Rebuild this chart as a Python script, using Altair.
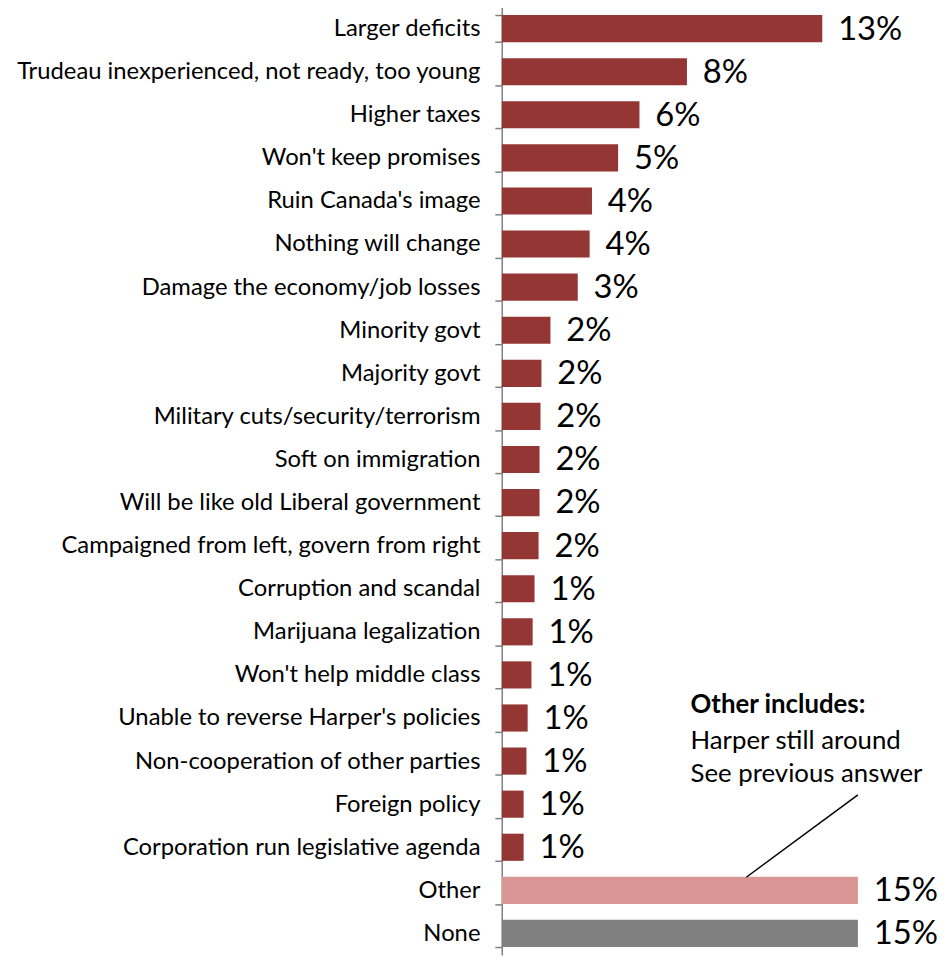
import altair as alt
import pandas as pd

categories = [
    "Larger deficits",
    "Trudeau inexperienced, not ready, too young",
    "Higher taxes",
    "Won't keep promises",
    "Ruin Canada's image",
    "Nothing will change",
    "Damage the economy/job losses",
    "Minority govt",
    "Majority govt",
    "Military cuts/security/terrorism",
    "Soft on immigration",
    "Will be like old Liberal government",
    "Campaigned from left, govern from right",
    "Corruption and scandal",
    "Marijuana legalization",
    "Won't help middle class",
    "Unable to reverse Harper's policies",
    "Non-cooperation of other parties",
    "Foreign policy",
    "Corporation run legislative agenda",
    "Other",
    "None",
]
values = [13.5, 7.8, 5.8, 4.9, 3.8, 3.7, 3.2, 2.05, 1.67, 1.63, 1.59, 1.59, 1.55,
          1.38, 1.3, 1.25, 1.09, 1.04, 0.92, 0.92, 15.0, 15.0]
labels = ["13%", "8%", "6%", "5%", "4%", "4%", "3%", "2%", "2%", "2%", "2%", "2%", "2%",
          "1%", "1%", "1%", "1%", "1%", "1%", "1%", "15%", "15%"]
groups = ["main"] * 20 + ["other", "none"]

note_title = "Other includes:"
note_lines = "Harper still around\nSee previous answer"

df = pd.DataFrame({"category": categories, "value": values, "label": labels, "group": groups})

FONT = "Lato"
y_scale = alt.Scale(domain=categories, paddingInner=0.37, paddingOuter=0.185)
x_scale = alt.Scale(domain=[0, 18])

bars = alt.Chart(df).mark_bar().encode(
    x=alt.X("value:Q", scale=x_scale, axis=None),
    y=alt.Y("category:N", scale=y_scale, title=None,
            axis=alt.Axis(ticks=True, tickSize=7, tickBand="extent",
                          tickColor="#808080", tickWidth=1.5, tickOpacity=1)),
    color=alt.Color("group:N", scale=alt.Scale(domain=["main", "other", "none"],
                                               range=["#943634", "#D99694", "#808080"]),
                    legend=None),
)

text = alt.Chart(df).mark_text(align="left", baseline="middle", dx=16, dy=1,
                               font=FONT, fontSize=33, color="#000000").encode(
    x=alt.X("value:Q", scale=x_scale),
    y=alt.Y("category:N", scale=y_scale, title=None),
    text="label:N",
)

ann_df = pd.DataFrame({"x": [7.95], "row_a": ["Unable to reverse Harper's policies"],
                       "row_b": ["Non-cooperation of other parties"],
                       "t1": [note_title], "t2": [note_lines],
                       "lx1": [15.0], "lx2": [10.3],
                       "ly1": ["Foreign policy"], "ly2": ["Other"]})

ann1 = alt.Chart(ann_df).mark_text(align="left", baseline="middle", dy=-13,
                                   font=FONT, fontSize=26, fontWeight="bold",
                                   color="#000000").encode(
    x=alt.X("x:Q", scale=x_scale),
    y=alt.Y("row_a:N", scale=y_scale, title=None),
    text="t1:N",
)
ann2 = alt.Chart(ann_df).mark_text(align="left", baseline="middle", dy=-20,
                                   font=FONT, fontSize=26, lineHeight=33,
                                   lineBreak="\n", color="#000000").encode(
    x=alt.X("x:Q", scale=x_scale),
    y=alt.Y("row_b:N", scale=y_scale, title=None),
    text="t2:N",
)
leader = alt.Chart(ann_df).mark_rule(color="#000000", strokeWidth=1.5,
                                     yOffset=-9.4, y2Offset=-13.2).encode(
    x=alt.X("lx1:Q", scale=x_scale),
    x2="lx2:Q",
    y=alt.Y("ly1:N", scale=y_scale, title=None),
    y2="ly2:N",
)

chart = alt.layer(bars, text, ann1, ann2, leader).properties(
    width=431, height=956,
    autosize=alt.AutoSizeParams(type="none"),
    padding={"left": 498, "right": 14, "top": -5, "bottom": 0},
).configure_view(stroke=None).configure_axisY(
    labelFont=FONT, labelFontSize=24, labelColor="#000000",
    labelPadding=15, domainColor="#808080", tickColor="#808080",
    ticks=True, tickSize=7, tickBand="extent", domainWidth=1.5,
    tickWidth=1.5, labelLimit=600, grid=False,
).configure_axisX(disable=True)

chart.save("out.html", embed_options={"renderer": "svg", "actions": False})
